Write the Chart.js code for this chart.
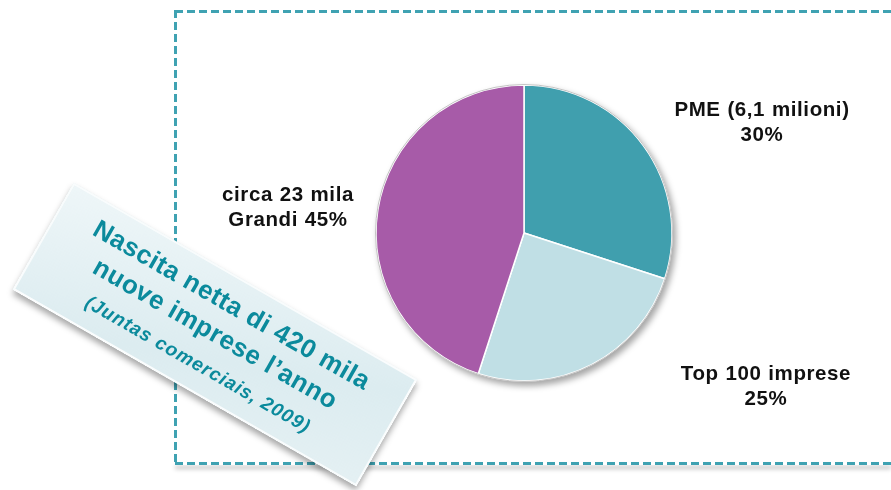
<!DOCTYPE html>
<html>
<head>
<meta charset="utf-8">
<script src="https://cdn.jsdelivr.net/npm/chart.js@4"></script>
<style>
  body { margin: 0; width: 891px; height: 490px; overflow: hidden; background: #fff;
         font-family: "Liberation Sans", Arial, sans-serif; }
  .dash { position: absolute; }
  .dash.h { height: 3px; background: repeating-linear-gradient(90deg, #3fa2b2 0 8px, transparent 8px 12px); }
  .dash.v { width: 3px; background: repeating-linear-gradient(180deg, #3fa2b2 0 8px, transparent 8px 12px); }
  #pieWrap { position: absolute; left: 369px; top: 78px; width: 310px; height: 310px;
             filter: drop-shadow(3px 4px 3px rgba(0,0,0,0.35)); }
  .lbl { position: absolute; width: 300px; text-align: center; font-weight: bold; font-size: 20.5px;
         letter-spacing: 0.6px; word-spacing: 0.5px; line-height: 25px; color: #111; }
  #note { position: absolute; left: 17px; top: 273px; width: 396px; height: 123px;
          transform: rotate(29.8deg); transform-origin: 50% 50%;
          background: linear-gradient(160deg, #eef6f8 0%, #dcecf0 60%, #e4f0f3 100%);
          border: 2px solid rgba(255,255,255,0.8); box-sizing: border-box;
          box-shadow: 2px 4px 6px rgba(0,0,0,0.35);
          display: flex; flex-direction: column; align-items: center; justify-content: center;
          color: #0b8a9c; font-weight: bold; text-align: center; padding-top: 2px; }
  #note .l1, #note .l2 { font-size: 26px; letter-spacing: 0.5px; line-height: 33px; }
  #note .l3 { font-size: 19px; font-style: italic; letter-spacing: 1px; line-height: 38px; }
</style>
</head>
<body>
<div class="dash h" style="left:175px; top:10px; width:716px;"></div>
<div class="dash v" style="left:174px; top:10px; height:455px;"></div>
<div class="dash h" style="left:175px; top:462px; width:716px; box-shadow: 0 4px 4px rgba(0,0,0,0.25);"></div>

<div id="pieWrap"><canvas id="pie" width="310" height="310"></canvas></div>

<div class="lbl" id="lbl0" style="left:612px; top:96px;"></div>
<div class="lbl" id="lbl1" style="left:616px; top:360px;"></div>
<div class="lbl" id="lbl2" style="left:138px; top:181px;"></div>

<div id="note">
  <div class="l1">Nascita netta di 420 mila</div>
  <div class="l2">nuove imprese l’anno</div>
  <div class="l3">(Juntas comerciais, 2009)</div>
</div>

<script>
// slices, clockwise from 12 o'clock
const categories = ['PME (6,1 milioni)', 'Top 100 imprese', 'Grandi'];
const shares = [30, 25, 45];
const labelHead = ['PME (6,1 milioni)', 'Top 100 imprese', 'circa 23 mila'];
const labelTail = ['', '', 'Grandi '];

const sliceColors = ['#409fae', '#c0dfe5', '#a75ba8'];

shares.forEach(function (v, i) {
  document.getElementById('lbl' + i).innerHTML =
    labelHead[i] + '<br>' + labelTail[i] + v + '%';
});

// thin grey rim round the pie
const rim = {
  id: 'rim',
  afterDatasetsDraw(chart) {
    const arc = chart.getDatasetMeta(0).data[0];
    const ctx = chart.ctx;
    ctx.save();
    ctx.beginPath();
    ctx.arc(arc.x, arc.y, arc.outerRadius + 0.5, 0, Math.PI * 2);
    ctx.strokeStyle = '#c4c4c4';
    ctx.lineWidth = 1;
    ctx.stroke();
    ctx.restore();
  }
};

new Chart(document.getElementById('pie'), {
  type: 'pie',
  data: {
    labels: categories,
    datasets: [{
      data: shares,
      backgroundColor: sliceColors,
      borderColor: '#ffffff',
      borderWidth: 1.5
    }]
  },
  options: {
    responsive: false,
    animation: false,
    radius: 148,
    layout: { padding: 0 },
    plugins: { legend: { display: false }, tooltip: { enabled: false } }
  },
  plugins: [rim]
});
</script>
</body>
</html>
